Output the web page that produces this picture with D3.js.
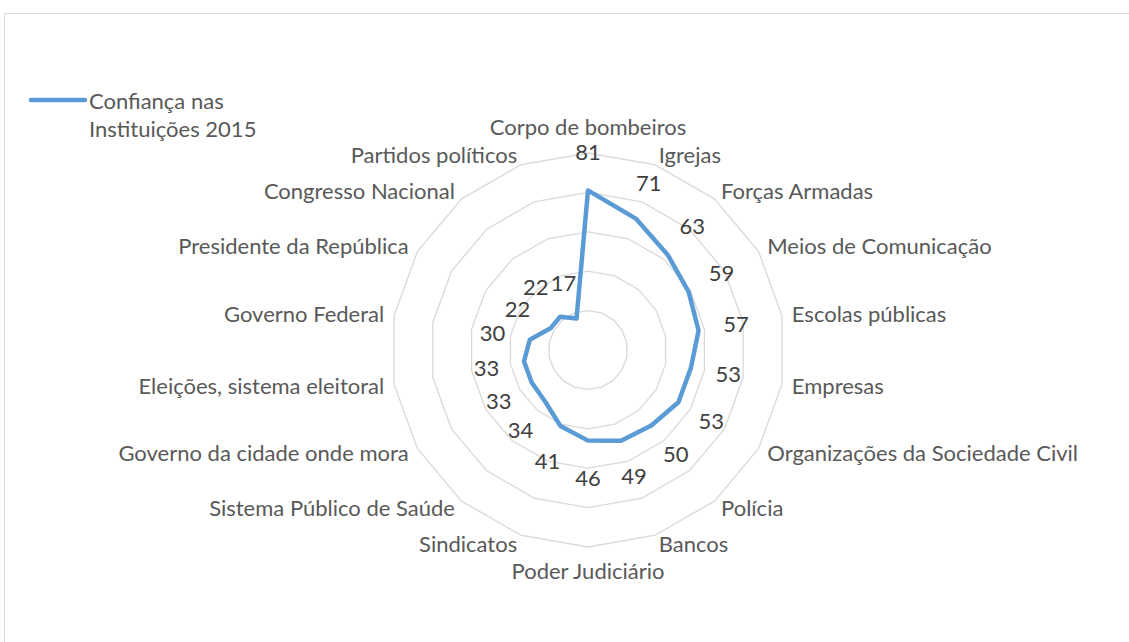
<!DOCTYPE html>
<html>
<head>
<meta charset="utf-8">
<script src="https://cdn.jsdelivr.net/npm/d3@7"></script>
<style>
  html, body { margin: 0; padding: 0; background: #fff; }
  svg { display: block; }
</style>
</head>
<body>
<svg id="chart" width="1129" height="642"></svg>
<script>
const categories = [
  "Corpo de bombeiros", "Igrejas", "Forças Armadas", "Meios de Comunicação",
  "Escolas públicas", "Empresas", "Organizações da Sociedade Civil", "Polícia",
  "Bancos", "Poder Judiciário", "Sindicatos", "Sistema Público de Saúde",
  "Governo da cidade onde mora", "Eleições, sistema eleitoral", "Governo Federal",
  "Presidente da República", "Congresso Nacional", "Partidos políticos"
];
const values = [81, 71, 63, 59, 57, 53, 53, 50, 49, 46, 41, 34, 33, 33, 30, 22, 22, 17];
const seriesName = ["Confiança nas", "Instituições 2015"];
const gridTicks = [20, 40, 60, 80, 100];

const FONT = "Lato, 'Open Sans', sans-serif";
const FS = 22;
const svg = d3.select("#chart");
const cx = 588, cy = 350, R = 197;

// chart frame
svg.append("rect").attr("x", 4.5).attr("y", 13.5).attr("width", 1200).attr("height", 700)
  .attr("fill", "#fff").attr("stroke", "#d9d9d9").attr("stroke-width", 1);

const r = d3.scaleLinear().domain([0, 100]).range([0, R]);
const n = categories.length;
const ang = d3.scaleLinear().domain([0, n]).range([0, 2 * Math.PI]);

const g = svg.append("g").attr("transform", `translate(${cx},${cy})`);

// grid polygons
const gridLine = d3.lineRadial().curve(d3.curveLinearClosed);
g.selectAll("path.grid").data(gridTicks).join("path")
  .attr("class", "grid")
  .attr("d", t => gridLine(categories.map((c, i) => [ang(i), r(t)])))
  .attr("fill", "none").attr("stroke", "#d9d9d9").attr("stroke-width", 1.3);

// category labels
const labR = r(100) + 10;
g.selectAll("text.cat").data(categories).join("text")
  .attr("class", "cat")
  .attr("x", (c, i) => labR * Math.sin(ang(i)))
  .attr("y", (c, i) => -labR * Math.cos(ang(i)))
  .attr("dy", (c, i) => {
    const co = Math.cos(ang(i));
    if (Math.abs(Math.sin(ang(i))) < 0.01) return co > 0 ? "-0.37em" : "1.0em";
    return "0.35em";
  })
  .attr("text-anchor", (c, i) => {
    const s = Math.sin(ang(i));
    return Math.abs(s) < 0.01 ? "middle" : (s > 0 ? "start" : "end");
  })
  .attr("font-family", FONT).attr("font-size", FS).attr("fill", "#595959")
  .text(d => d);

// data line
const dataLine = d3.lineRadial().curve(d3.curveLinearClosed);
g.append("path")
  .attr("d", dataLine(values.map((v, i) => [ang(i), r(v)])))
  .attr("fill", "none").attr("stroke", "#5b9bd5").attr("stroke-width", 4.5)
  .attr("stroke-linejoin", "round");

// data labels
const off = 38;
g.selectAll("text.val").data(values).join("text")
  .attr("class", "val")
  .attr("x", (v, i) => (r(v) + off) * Math.sin(ang(i)))
  .attr("y", (v, i) => -(r(v) + off) * Math.cos(ang(i)))
  .attr("dy", "0.35em")
  .attr("text-anchor", "middle")
  .attr("font-family", FONT).attr("font-size", FS).attr("fill", "#404040")
  .text(d => d);

// legend
const lg = svg.append("g");
lg.append("line").attr("x1", 31).attr("x2", 85).attr("y1", 100).attr("y2", 100)
  .attr("stroke", "#5b9bd5").attr("stroke-width", 4.5).attr("stroke-linecap", "round");
lg.selectAll("text").data(seriesName).join("text")
  .attr("x", 89).attr("y", (d, i) => 101 + i * 28).attr("dy", "0.35em")
  .attr("font-family", FONT).attr("font-size", FS).attr("fill", "#595959")
  .text(d => d);
</script>
</body>
</html>
